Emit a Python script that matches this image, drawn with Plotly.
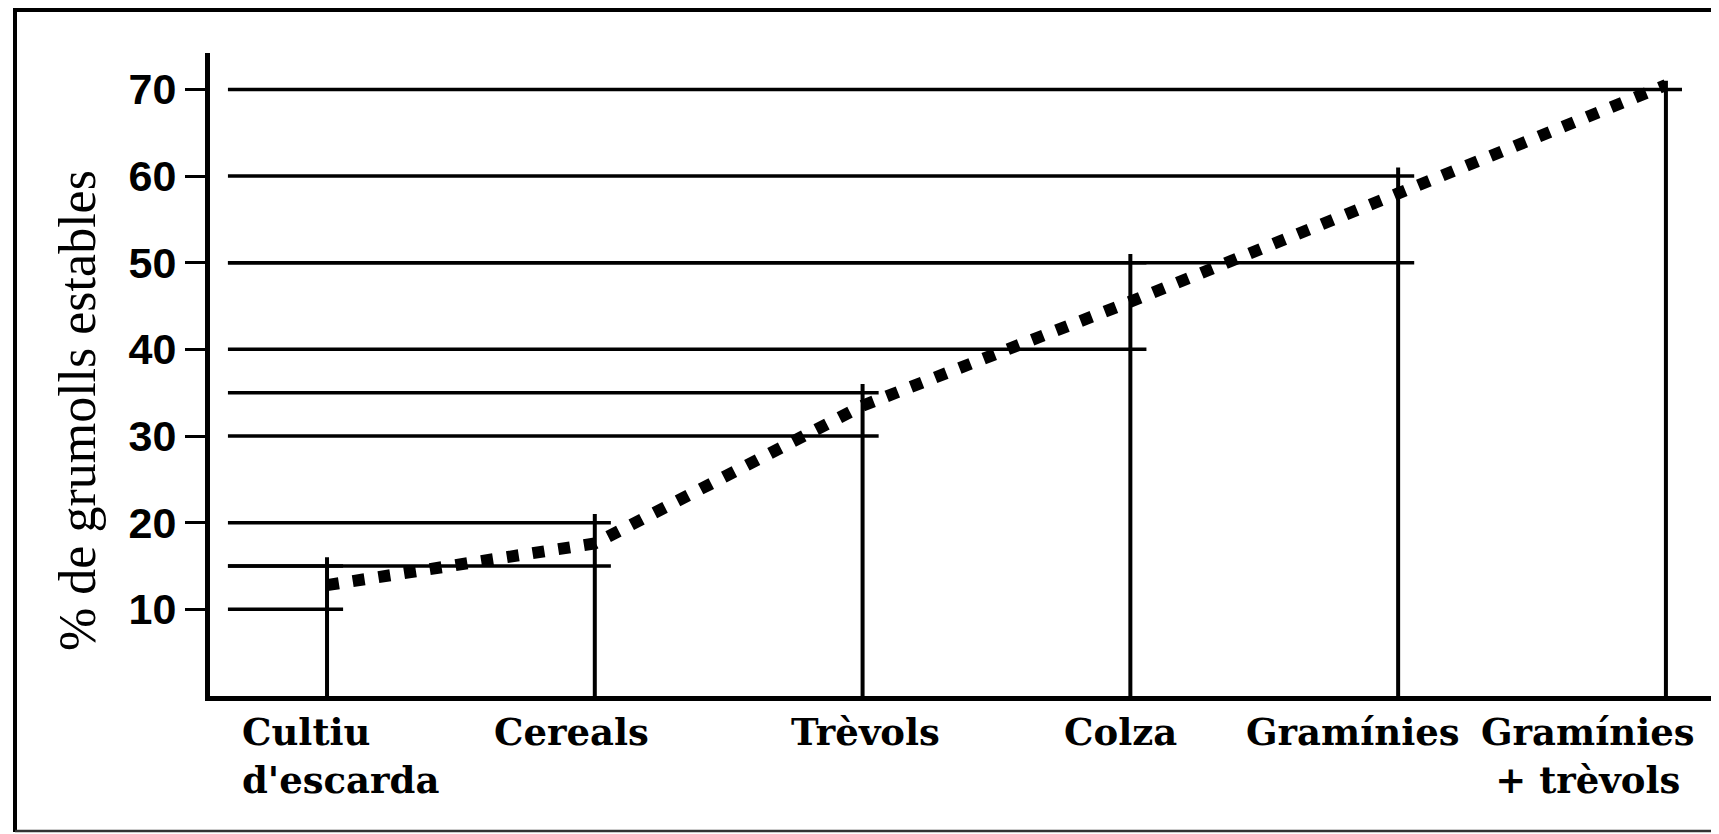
import plotly.graph_objects as go

# ---- data ----
categories = ["Cultiu<br>d'escarda", "Cereals", "Trèvols", "Colza", "Gramínies", "Gramínies<br>+ trèvols"]
low_values = [10, 15, 30, 40, 50, 70]
high_values = [15, 20, 35, 50, 60, 70]
mean_values = [12.8, 17.6, 33.5, 45.5, 58.0, 70.5]
y_tick_values = [10, 20, 30, 40, 50, 60, 70]
y_title = "% de grumolls estables"

# ---- layout constants (screen pixels; page body has an 8px margin) ----
OFF = 8
SW, SH = 1719, 834
W, H = SW - OFF, SH - OFF
PL, PR, PT, PB = 210, 1716, 53, 696          # plot area in screen px
L, R, T, B = PL - OFF, W - (PR - OFF), PT - OFF, H - (PB - OFF)
PW, PH = PR - PL, PB - PT
XR = [-0.437, 5.187]
YR = [0, 74.2]


def px2x(px):
    return (px - PL) / PW


def py2y(py):
    return (PB - py) / PH


idx = list(range(len(categories)))

fig = go.Figure()

# vertical lines (0 -> a little above high)
vx, vy = [], []
for i, h in zip(idx, high_values):
    vx += [i, i, None]
    vy += [0, h + 1, None]
fig.add_trace(go.Scatter(x=vx, y=vy, mode="lines", line=dict(color="black", width=4),
                         hoverinfo="skip", showlegend=False))

# horizontal lines at low and high values
hx, hy = [], []
for i, lo, hi in zip(idx, low_values, high_values):
    for v in sorted(set([lo, hi])):
        hx += [-0.37, i + 0.06, None]
        hy += [v, v, None]
fig.add_trace(go.Scatter(x=hx, y=hy, mode="lines", line=dict(color="black", width=3.5),
                         hoverinfo="skip", showlegend=False))

# dotted mean line
fig.add_trace(go.Scatter(x=idx, y=mean_values, mode="lines",
                         line=dict(color="black", width=12, dash="12px,14px"),
                         hoverinfo="skip", showlegend=False))

fig.update_layout(
    width=W, height=H,
    margin=dict(l=L, r=R, t=T, b=B, pad=0),
    paper_bgcolor="white", plot_bgcolor="white",
    showlegend=False,
    xaxis=dict(range=XR, showgrid=False, zeroline=False, showticklabels=False,
               ticks="", showline=True, linecolor="black", linewidth=5, fixedrange=True),
    yaxis=dict(range=YR, showgrid=False, zeroline=False, showline=True,
               linecolor="black", linewidth=5,
               tickvals=y_tick_values, ticks="outside", ticklen=20, tickwidth=3,
               tickcolor="black",
               tickfont=dict(family="Liberation Sans", size=43, color="black", weight="bold"),
               fixedrange=True),
)

# y title
fig.add_annotation(text=y_title, xref="paper", yref="paper", x=px2x(77), y=py2y(411),
                   xanchor="center", yanchor="middle", textangle=-90, showarrow=False,
                   font=dict(family="Liberation Serif", size=52, color="black"))

# category labels
label_shift = [-87, -23, 3, -10, -45, -78]
label_anchor = ["left", "center", "center", "center", "center", "center"]
label_align = ["left", "center", "center", "center", "center", "center"]
for i, txt, sh, an, al in zip(idx, categories, label_shift, label_anchor, label_align):
    fig.add_annotation(text=txt, x=i, xref="x", yref="paper", y=py2y(708),
                       xanchor=an, yanchor="top", align=al, xshift=sh, showarrow=False,
                       font=dict(family="DejaVu Serif", size=37, color="black", weight="bold"))

# outer frame
frame = dict(color="black", width=4)
fig.add_shape(type="line", xref="paper", yref="paper", x0=px2x(15), x1=px2x(15),
              y0=py2y(10), y1=py2y(832), line=frame)
fig.add_shape(type="line", xref="paper", yref="paper", x0=px2x(13), x1=px2x(SW + 5),
              y0=py2y(10), y1=py2y(10), line=frame)
fig.add_shape(type="line", xref="paper", yref="paper", x0=px2x(15), x1=px2x(SW + 5),
              y0=py2y(831), y1=py2y(831), line=dict(color="#333", width=2.5))

fig.write_html("out.html")
